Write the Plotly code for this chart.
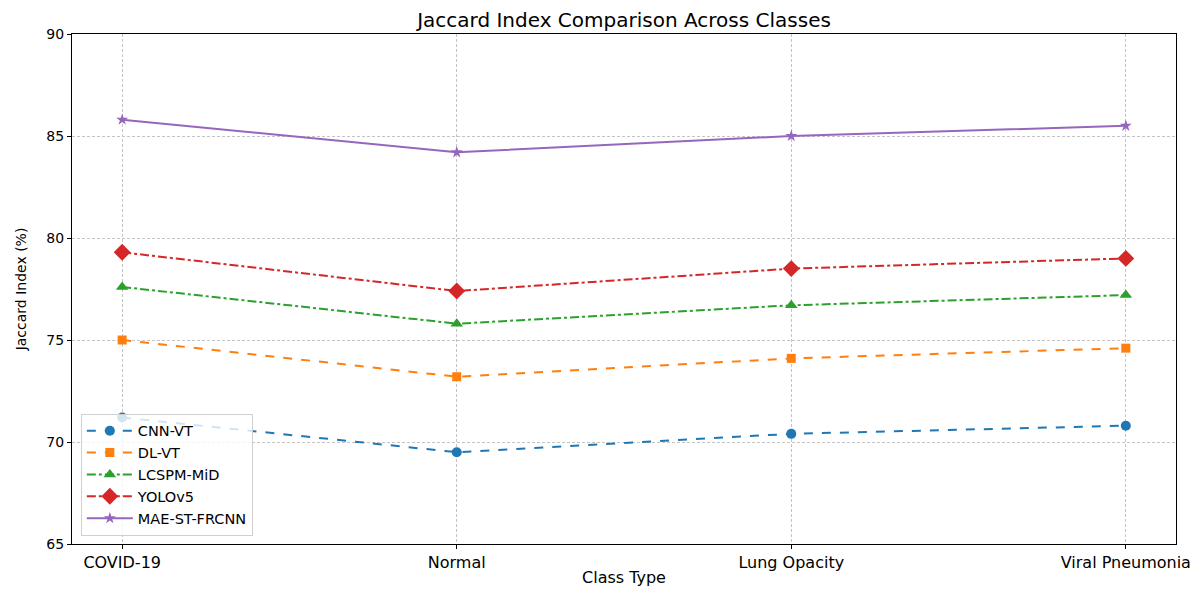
import plotly.graph_objects as go

classes = ["COVID-19", "Normal", "Lung Opacity", "Viral Pneumonia"]
cnn_vt = [71.2, 69.5, 70.4, 70.8]
dl_vt = [75.0, 73.2, 74.1, 74.6]
lcspm_mid = [77.6, 75.8, 76.7, 77.2]
yolov5 = [79.3, 77.4, 78.5, 79.0]
mae_st_frcnn = [85.8, 84.2, 85.0, 85.5]
y_ticks = [65, 70, 75, 80, 85, 90]

series = [
    ("CNN-VT", cnn_vt, "#1f77b4", "circle", "dash", 10),
    ("DL-VT", dl_vt, "#ff7f0e", "square", "dash", 9),
    ("LCSPM-MiD", lcspm_mid, "#2ca02c", "triangle-up", "dashdot", 11),
    ("YOLOv5", yolov5, "#d62728", "diamond", "dashdot", 13),
    ("MAE-ST-FRCNN", mae_st_frcnn, "#9467bd", "star", "solid", 9),
]

xs = list(range(len(classes)))
fig = go.Figure()
for name, vals, color, sym, dash, ms in series:
    fig.add_trace(go.Scatter(
        x=xs, y=vals, name=name, mode="lines+markers",
        line=dict(color=color, dash=dash, width=2),
        marker=dict(symbol=sym, size=ms, color=color, line=dict(width=0)),
    ))

FONT = "DejaVu Sans"
axis_common = dict(
    showline=True, linecolor="black", linewidth=1.2, mirror=True,
    showgrid=True, gridcolor="#c4c4c4", griddash="3px,2px", gridwidth=0.8,
    ticks="outside", ticklen=4, tickcolor="black", tickwidth=1,
    zeroline=False, automargin=False,
)

# page body has an 8px margin, so the figure is sized to fit the 1202x590 window
W, H = 1194, 582
fig.update_layout(
    width=W, height=H,
    margin=dict(l=64, r=26, t=26, b=46),
    paper_bgcolor="white", plot_bgcolor="white",
    title=dict(text="Jaccard Index Comparison Across Classes", x=(64 + 1168) / 2 / W,
               xanchor="center", y=1 - 12 / H, yanchor="middle",
               font=dict(family=FONT, size=20, color="black")),
    xaxis=dict(axis_common, range=[-0.15, 3.15], tickmode="array", tickvals=xs, ticktext=classes,
               tickfont=dict(family=FONT, size=16, color="black"),
               title=dict(text="Class Type", font=dict(family=FONT, size=16, color="black"), standoff=0)),
    yaxis=dict(axis_common, range=[65, 90], tickmode="array", tickvals=y_ticks,
               tickfont=dict(family=FONT, size=14, color="black"),
               title=dict(text="Jaccard Index (%)", font=dict(family=FONT, size=14, color="black"), standoff=16)),
    legend=dict(x=0.008, y=0.016, xanchor="left", yanchor="bottom",
                bgcolor="rgba(255,255,255,0.8)", bordercolor="#d0d0d0", borderwidth=1,
                font=dict(family=FONT, size=14.5, color="black"), tracegroupgap=0,
                itemwidth=46),
    showlegend=True,
)

fig.write_html("out.html")
